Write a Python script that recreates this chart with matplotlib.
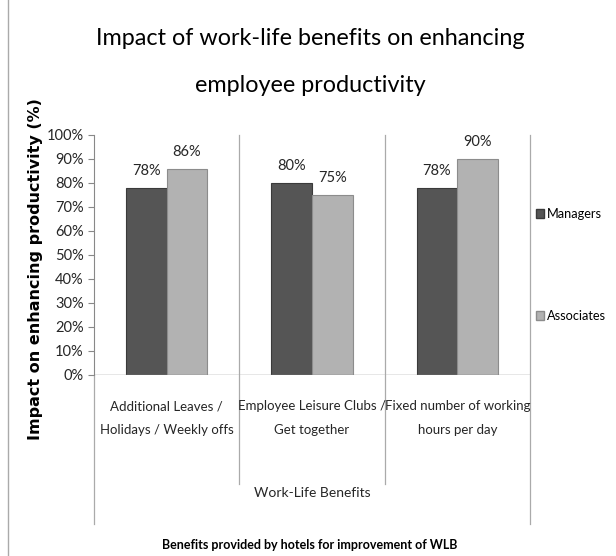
import numpy as np
import matplotlib.pyplot as plt
from matplotlib.lines import Line2D
from matplotlib.patches import Patch

# data
categories = ["Additional Leaves /\nHolidays / Weekly offs",
              "Employee Leisure Clubs /\nGet together",
              "Fixed number of working\nhours per day"]
managers = [78, 80, 78]
associates = [86, 75, 90]
series_names = ["Managers", "Associates"]
yticks = [0, 10, 20, 30, 40, 50, 60, 70, 80, 90, 100]

plt.rcParams['font.family'] = ['Lato', 'DejaVu Sans']

fig = plt.figure(figsize=(6.16, 5.56), dpi=100)
ax = fig.add_axes([94/616, 1-375/556, 436/616, 240/556])

x = np.arange(len(categories))
w = 0.28
dark = "#555555"
light = "#b2b2b2"
b1 = ax.bar(x - w/2, managers, w, color=dark, edgecolor="#3a3a3a", linewidth=0.8)
b2 = ax.bar(x + w/2, associates, w, color=light, edgecolor="#8c8c8c", linewidth=0.8)

# labels above bars
for bars, vals in [(b1, managers), (b2, associates)]:
    for b, v in zip(bars, vals):
        ax.annotate(f"{v}%", (b.get_x() + b.get_width()/2, v), xytext=(0, 7),
                    textcoords="offset points", ha="center", va="bottom",
                    fontsize=10.5, color="#262626")

ax.set_xlim(-0.5, 2.5)
ax.set_ylim(0, 100)
ax.set_yticks(yticks)
ax.set_yticklabels([f"{t}%" for t in yticks], fontsize=10.5, color="#262626")
ax.set_xticks([])
ax.tick_params(axis="y", length=4, color="#888888")
for s in ["top", "right", "bottom"]:
    ax.spines[s].set_visible(False)
ax.spines["left"].set_color("#888888")
ax.axhline(0, color="#888888", lw=1)

# category separators (multi-level axis look)
trans = ax.get_xaxis_transform()
for xs in [0.5, 1.5]:
    ax.plot([xs, xs], [-0.455, 1], color="#aaaaaa", lw=0.9, transform=trans, clip_on=False)
for xs in [-0.5, 2.5]:
    ax.plot([xs, xs], [-0.62, 1 if xs > 0 else 0], color="#aaaaaa", lw=0.9, transform=trans, clip_on=False)

for xi, c in zip(x, categories):
    ax.text(xi, -0.18, c, transform=trans, ha="center", va="center",
            fontsize=9.5, color="#262626", linespacing=2.2)
ax.text(1, -0.49, "Work-Life Benefits", transform=trans, ha="center", va="center",
        fontsize=10, color="#262626")

ax.set_ylabel("Impact on enhancing productivity (%)", family="DejaVu Sans",
              fontweight="bold", fontsize=11.5)
ax.yaxis.set_label_coords(-0.118, 0.44)

fig.text(0.503, 0.93, "Impact of work-life benefits on enhancing",
         ha="center", va="center", fontsize=16.8)
fig.text(0.503, 0.846, "employee productivity", ha="center", va="center", fontsize=16.8)
fig.text(0.503, 0.02, "Benefits provided by hotels for improvement of WLB",
         ha="center", va="center", fontsize=9, fontweight="bold")

handles = [Patch(facecolor=dark, edgecolor="#3a3a3a"),
           Patch(facecolor=light, edgecolor="#8c8c8c")]
fig.legend(handles, series_names, loc="center left", bbox_to_anchor=(536/616, 1-265/556),
           frameon=False, fontsize=9.2, handlelength=0.6, handleheight=0.7,
           handletextpad=0.25, labelspacing=7.0, borderpad=0, borderaxespad=0)

fig.add_artist(Line2D([8/616, 8/616], [0, 1], color="#aaaaaa", lw=1))

fig.savefig("out.png", dpi=100)
